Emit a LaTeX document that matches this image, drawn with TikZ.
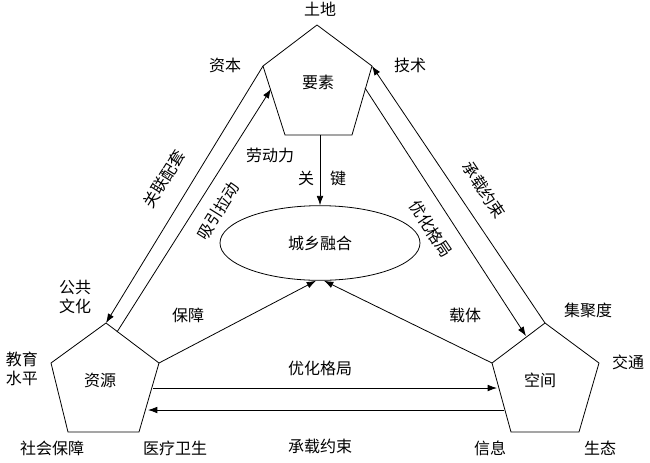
\documentclass[tikz,border=0pt]{standalone}
\usepackage{fontspec}
\newfontfamily\cjk{Noto Sans CJK SC}
\usetikzlibrary{positioning,shapes.geometric,arrows.meta}
\tikzset{
  lbl/.style={font=\cjk\fontsize{12}{14}\selectfont, inner sep=1pt},
  link/.style={-{Latex[length=7pt,width=5pt]}, semithick},
  pent/.style={semithick}
}
\begin{document}
\begin{tikzpicture}[x=0.75pt,y=-0.75pt]
  \useasboundingbox (0,0) rectangle (650,462);
  % pentagons
  \coordinate (Tt) at (317,25);  \coordinate (Tl) at (263,66);  \coordinate (Tr) at (372,66);
  \coordinate (Tbl) at (285,135); \coordinate (Tbr) at (352,135);
  \draw[pent] (Tt) -- (Tr) -- (Tbr) -- (Tbl) -- (Tl) -- cycle;
  \coordinate (Lt) at (106,323); \coordinate (Ll) at (51,363);  \coordinate (Lr) at (159,363);
  \coordinate (Lbl) at (68,432); \coordinate (Lbr) at (139,432);
  \draw[pent] (Lt) -- (Lr) -- (Lbr) -- (Lbl) -- (Ll) -- cycle;
  \coordinate (Rt) at (545,323); \coordinate (Rl) at (492,363); \coordinate (Rr) at (599,363);
  \coordinate (Rbl) at (511,432); \coordinate (Rbr) at (579,432);
  \draw[pent] (Rt) -- (Rr) -- (Rbr) -- (Rbl) -- (Rl) -- cycle;
  \node[lbl] (yaosu) at (318,82) {要素};
  \node[lbl] (ziyuan) at (100,380) {资源};
  \node[lbl] (kongjian) at (540,380) {空间};
  \node[draw, semithick, ellipse, minimum width=150pt, minimum height=56pt, lbl] (rh) at (320,243) {城乡融合};

  % connectors
  \coordinate (a1) at (117,332); \coordinate (a2) at (271,89);
  \coordinate (b1) at (365,88);  \coordinate (b2) at (526,336);
  \coordinate (c1) at (153,388); \coordinate (c2) at (497,388);
  \coordinate (d1) at (504,410); \coordinate (d2) at (148,410);
  \coordinate (kt) at (320,135);
  \draw[link] (Tl) -- (Lt);
  \draw[link] (a1) -- (a2);
  \draw[link] (Rt) -- (Tr);
  \draw[link] (b1) -- (b2);
  \draw[link] (kt) -- (rh.north);
  \draw[link] (Lr) -- ([xshift=-3pt]rh.south);
  \draw[link] (Rl) -- ([xshift=3pt]rh.south);
  \draw[link] (c1) -- (c2);
  \draw[link] (d1) -- (d2);

  % labels
  \node[lbl] (tudi) at (320,9) {土地};
  \node[lbl] (ziben) at (225,65) {资本};
  \node[lbl] (jishu) at (410,65) {技术};
  \node[lbl] (laodong) at (270,155) {劳动力};
  \node[lbl] (guan) at (306,178) {关};
  \node[lbl] (jian) at (338,178) {键};
  \node[lbl, rotate=58] (guanlian) at (164,179) {关联配套};
  \node[lbl, rotate=58] (xiyin) at (218,211) {吸引拉动};
  \node[lbl, rotate=-56] (chengzai1) at (484,190) {承载约束};
  \node[lbl, rotate=-56] (youhua1) at (431,229) {优化格局};
  \node[lbl, align=center] (gonggong) at (75,297) {公共\\文化};
  \node[lbl, align=center] (jiaoyu) at (22,369) {教育\\水平};
  \node[lbl] (shehui) at (52,448) {社会保障};
  \node[lbl] (yiliao) at (175,448) {医疗卫生};
  \node[lbl] (baozhang) at (188,315) {保障};
  \node[lbl] (youhua2) at (320,368) {优化格局};
  \node[lbl] (chengzai2) at (320,446) {承载约束};
  \node[lbl] (zaiti) at (465,315) {载体};
  \node[lbl] (jiju) at (588,310) {集聚度};
  \node[lbl] (jiaotong) at (628,362) {交通};
  \node[lbl] (xinxi) at (490,448) {信息};
  \node[lbl] (shengtai) at (600,448) {生态};
\end{tikzpicture}
\end{document}
